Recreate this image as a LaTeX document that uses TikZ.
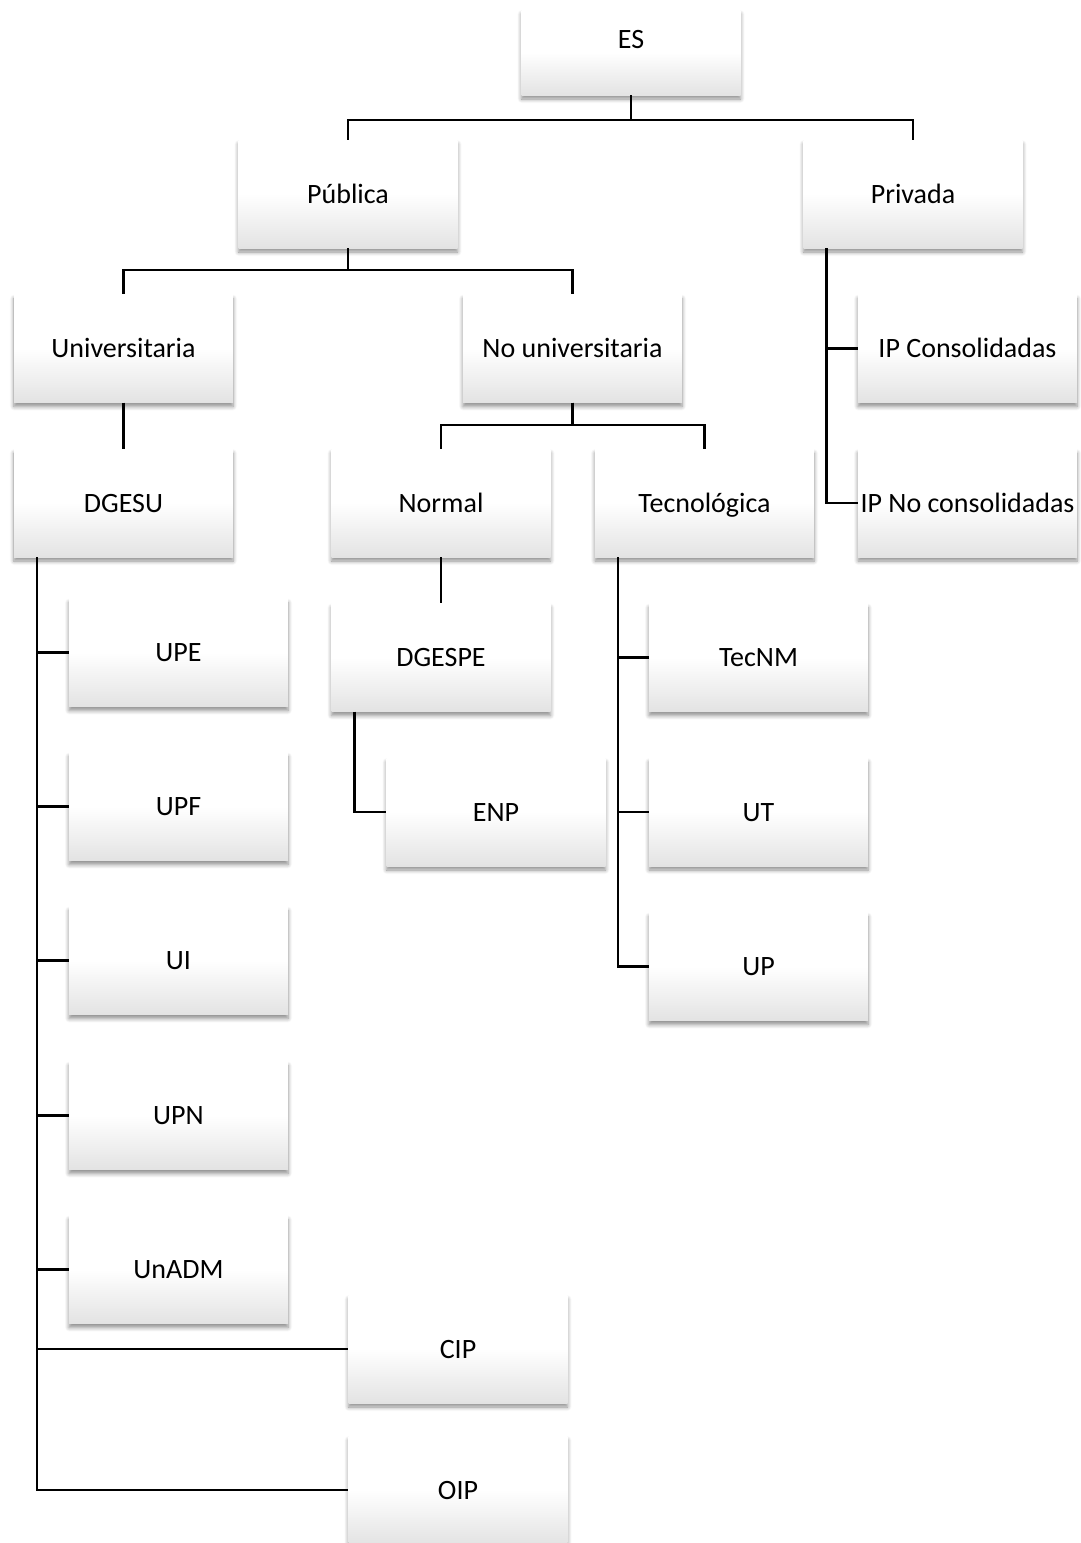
\documentclass[tikz,border=0pt]{standalone}
\usepackage{fontspec}
\setmainfont{Carlito}
\usetikzlibrary{shadows.blur}
\begin{document}
\begin{tikzpicture}[x=1pt,y=-1pt,
  box/.style={rectangle, minimum width=219pt, minimum height=108pt, inner sep=0pt,
    top color=white, bottom color=black!11, middle color=white, draw=none,
    blur shadow={shadow xshift=0pt, shadow yshift=-4pt, shadow blur radius=4pt, shadow blur steps=6, shadow opacity=45},
    font=\fontsize{28}{34}\selectfont, text=black, text height=23.6pt, text depth=5.6pt},
  conn/.style={draw=black, line width=2.4pt}]
\useasboundingbox (0,0) rectangle (1080,1543);
\node[box, minimum height=85pt] (es) at (631,52.5) {\raisebox{13.5pt}{ES}};
\node[box] (pub) at (348,194) {Pública};
\node[box] (priv) at (913,194) {Privada};
\node[box] (univ) at (123.5,348.5) {Universitaria};
\node[box] (nouniv) at (572.5,348.5) {No universitaria};
\node[box] (ipc) at (967.5,348.5) {IP Consolidadas};
\node[box] (ipn) at (967.5,503) {IP No consolidadas};
\node[box] (dgesu) at (123.5,503) {DGESU};
\node[box] (normal) at (441,503) {Normal};
\node[box] (tec) at (704.5,503) {Tecnológica};
\node[box] (upe) at (178.5,652.5) {UPE};
\node[box] (dgespe) at (441,657.5) {DGESPE};
\node[box] (tecnm) at (758.5,657.5) {TecNM};
\node[box] (upf) at (178.5,806.5) {UPF};
\node[box] (enp) at (496,812) {ENP};
\node[box] (ut) at (758.5,812) {UT};
\node[box] (ui) at (178.5,960.5) {UI};
\node[box] (up) at (758.5,966.5) {UP};
\node[box] (upn) at (178.5,1115.5) {UPN};
\node[box] (unadm) at (178.5,1269.5) {UnADM};
\node[box] (cip) at (458,1349) {CIP};
\node[box] (oip) at (458,1490) {OIP};
% connectors
\draw[conn] (es.south) -- ++(0,25) -| (pub.north);
\draw[conn] (es.south) -- ++(0,25) -| (priv.north);
\draw[conn] (pub.south) -- ++(0,22) -| (univ.north);
\draw[conn] (pub.south) -- ++(0,22) -| (nouniv.north);
\draw[conn] (nouniv.south) -- ++(0,22) -| (normal.north);
\draw[conn] (nouniv.south) -- ++(0,22) -| (tec.north);
\draw[conn] (univ.south) -- (dgesu.north);
\draw[conn] (normal.south) -- (dgespe.north);
\coordinate (pv) at ([xshift=23pt]priv.south west);
\draw[conn] (pv) |- (ipc.west);
\draw[conn] (pv) |- (ipn.west);
\coordinate (dv) at ([xshift=23pt]dgesu.south west);
\draw[conn] (dv) |- (upe.west);
\draw[conn] (dv) |- (upf.west);
\draw[conn] (dv) |- (ui.west);
\draw[conn] (dv) |- (upn.west);
\draw[conn] (dv) |- (unadm.west);
\draw[conn] (dv) |- (cip.west);
\draw[conn] (dv) |- (oip.west);
\coordinate (ev) at ([xshift=23pt]dgespe.south west);
\draw[conn] (ev) |- (enp.west);
\coordinate (tv) at ([xshift=23pt]tec.south west);
\draw[conn] (tv) |- (tecnm.west);
\draw[conn] (tv) |- (ut.west);
\draw[conn] (tv) |- (up.west);
\end{tikzpicture}
\end{document}
